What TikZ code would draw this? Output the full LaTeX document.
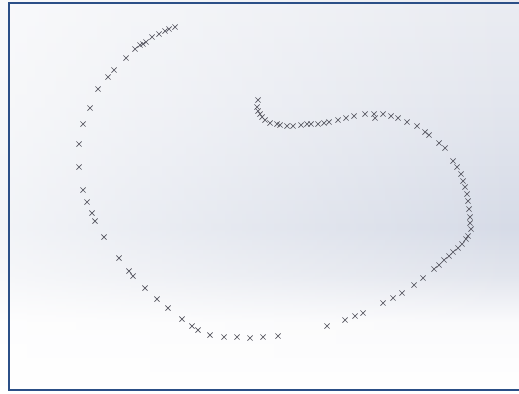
\documentclass[tikz,border=0pt]{standalone}
\usepackage{tikz}
\usetikzlibrary{shapes.misc, fadings}

\definecolor{frameblue}{RGB}{43,79,135}
\definecolor{bgtop}{RGB}{234,236,242}
\definecolor{bgupper}{RGB}{227,230,238}
\definecolor{bgmid}{RGB}{214,219,231}
\definecolor{bglow}{RGB}{226,229,237}
\definecolor{bgfade}{RGB}{250,250,252}
\definecolor{markgray}{RGB}{85,85,95}

% background of the viewport (bottom = 25bp, top = 75bp)
\pgfdeclareverticalshading{viewbg}{100bp}{%
  color(0bp)=(white); color(25bp)=(white); color(34bp)=(bgfade);
  color(40bp)=(bglow); color(46bp)=(bgmid); color(62bp)=(bgupper);
  color(75bp)=(bgtop); color(100bp)=(bgtop)}

\begin{document}
\begin{tikzpicture}[x=0.05cm, y=-0.05cm,
    pt/.style={cross out, draw=markgray, line width=1pt, minimum size=0.22cm, inner sep=0pt}]
  \useasboundingbox (0,0) rectangle (519,393);

  % background
  \shade[shading=viewbg] (0,0) rectangle (519,393);
  \fill[white, opacity=0.7, path fading=east] (0,0) rectangle (519,393);

  % frame (no right edge)
  \draw[frameblue, line width=2.8pt] (519,3) -- (9,3) -- (9,390) -- (519,390);

  % outer arc of points
  \foreach \x/\y [count=\i] in {175/27, 169/29, 165/31, 159/34, 152/37, 146/42, 143/44, 140/45,
      135/49, 126/58, 114/70, 108/77, 98/89, 90/108, 83/124, 79/144, 79/167, 83/190, 87/202,
      92/213, 95/221, 104/237, 119/258, 129/271, 133/276, 145/288, 157/299, 168/308, 182/319,
      192/326, 198/330, 210/335, 224/337, 237/337, 250/338, 263/337, 278/336}
    \node[pt] (a\i) at (\x,\y) {};

  % inner curve of points
  \foreach \x/\y [count=\i] in {258/100, 257/107, 258/111, 260/114, 262/117, 265/120, 270/123,
      277/124, 280/125, 287/126, 293/126, 301/125, 307/124, 311/124, 318/124, 324/123, 329/122,
      338/120, 346/118, 354/116, 365/114, 374/114, 375/118, 383/114, 391/116, 398/118, 407/122,
      417/126, 425/132, 429/135, 439/143, 445/148, 453/161, 457/167, 461/174, 463/181, 465/187,
      467/194, 468/201, 469/209, 470/217, 470/223, 471/229, 468/236, 466/239, 462/244, 458/248,
      453/252, 449/256, 444/260, 439/265, 434/269, 423/278, 414/285, 402/293, 393/298, 383/303,
      363/313, 355/316, 345/320, 327/326}
    \node[pt] (b\i) at (\x,\y) {};
\end{tikzpicture}
\end{document}
